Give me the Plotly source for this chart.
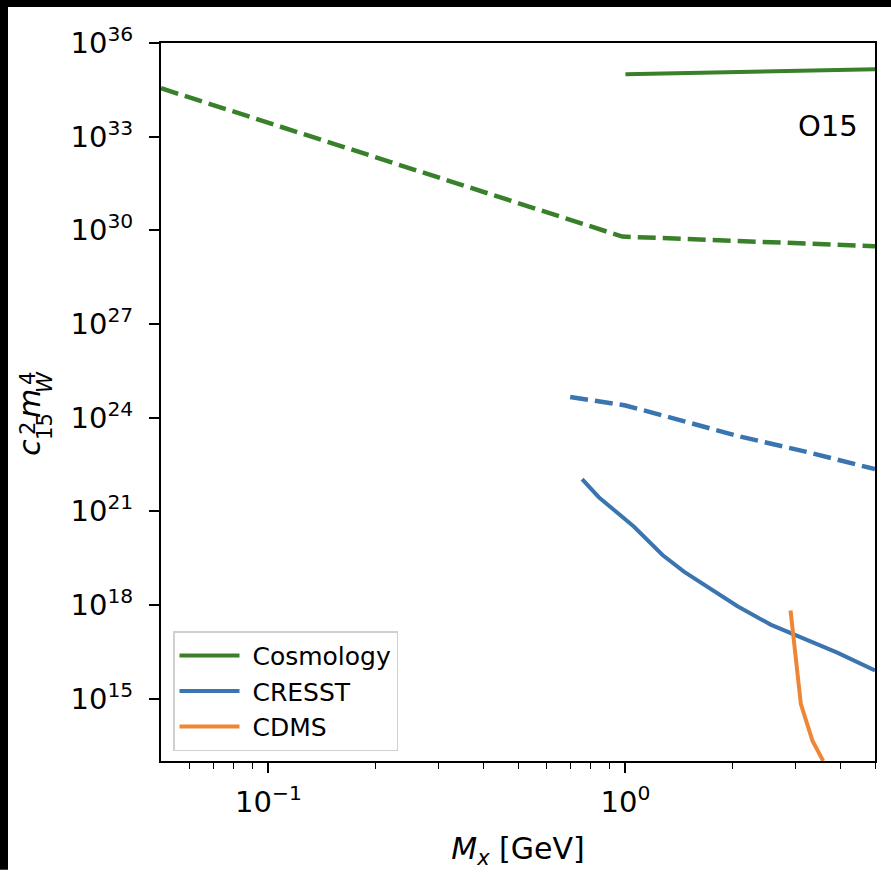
import plotly.graph_objects as go

# ---------------- data ----------------
cosmo_solid_x = [1.0, 5.0]
cosmo_solid_y = [1.0e35, 1.45e35]

cosmo_dash_x = [0.05, 0.98, 5.0]
cosmo_dash_y = [3.55e34, 6.3e29, 3.1e29]

cresst_dash_x = [0.70, 1.0, 1.37, 2.1, 3.23, 5.0]
cresst_dash_y = [4.57e24, 2.45e24, 9.3e23, 2.45e23, 7.9e22, 2.24e22]

cresst_x = [0.756, 0.842, 1.055, 1.27, 1.458, 2.06, 2.55, 3.92, 5.0]
cresst_y = [1.07e22, 2.82e21, 3.24e20, 3.98e19, 1.17e19, 9.1e17, 2.34e17, 2.95e16, 7.9e15]

cdms_x = [2.90, 3.10, 3.34, 3.58]
cdms_y = [6.6e17, 6.6e14, 4.47e13, 1.0e13]

y_tick_exps = [15, 18, 21, 24, 27, 30, 33, 36]
x_tick_vals = [0.1, 1.0]
x_tick_text = ["10<sup>\u22121</sup>", "10<sup>0</sup>"]
x_minor_vals = [0.06, 0.07, 0.08, 0.09, 0.2, 0.3, 0.4, 0.5, 0.6, 0.7, 0.8, 0.9, 2, 3, 4, 5]

GREEN = "#38812a"
BLUE = "#3b75af"
ORANGE = "#ef8636"

# ---------------- figure ----------------
W, H = 891, 872
L, R, T, B = 161, 16, 43, 109
PW, PH = W - L - R, H - T - B

def px(x):
    return (x - L) / PW

def py(y):
    return (H - B - y) / PH

FONT = "DejaVu Sans"
DASH = "18px,7px"
fig = go.Figure()

fig.add_trace(go.Scatter(x=cosmo_dash_x, y=cosmo_dash_y, mode="lines",
                         line=dict(color=GREEN, width=4.5, dash=DASH),
                         showlegend=False))
fig.add_trace(go.Scatter(x=cresst_dash_x, y=cresst_dash_y, mode="lines",
                         line=dict(color=BLUE, width=4.5, dash=DASH),
                         showlegend=False))
fig.add_trace(go.Scatter(x=cosmo_solid_x, y=cosmo_solid_y, mode="lines",
                         line=dict(color=GREEN, width=4), name="\u00a0Cosmology"))
fig.add_trace(go.Scatter(x=cresst_x, y=cresst_y, mode="lines",
                         line=dict(color=BLUE, width=4), name="\u00a0CRESST"))
fig.add_trace(go.Scatter(x=cdms_x, y=cdms_y, mode="lines",
                         line=dict(color=ORANGE, width=4), name="\u00a0CDMS"))

fig.update_layout(
    width=W, height=H,
    margin=dict(l=L, r=R, t=T, b=B, pad=0),
    paper_bgcolor="white", plot_bgcolor="white",
    font=dict(family=FONT, color="black", size=29),
    legend=dict(x=px(173), y=py(633), xanchor="left", yanchor="top",
                bgcolor="rgba(255,255,255,0.8)", bordercolor="#d0d0d0", borderwidth=1.5,
                font=dict(size=25, family=FONT), itemwidth=60, tracegroupgap=0),
    xaxis=dict(type="log", range=[-1.30103, 0.69897],
               tickvals=x_tick_vals, ticktext=x_tick_text,
               ticks="outside", ticklen=10, tickwidth=1.8, tickcolor="black",
               showline=True, linecolor="black", linewidth=2, mirror=True,
               showgrid=False, zeroline=False, ticklabelstandoff=4,
               tickfont=dict(size=29, family=FONT),
               minor=dict(tickvals=x_minor_vals, ticks="outside", ticklen=6,
                          tickwidth=1.4, tickcolor="black", showgrid=False),
               title=dict(text="<i>M</i><sub><i>x</i></sub> [GeV]",
                          font=dict(size=30, family=FONT), standoff=20)),
    yaxis=dict(type="log", range=[12.9999, 36.0001],
               tickvals=[10.0 ** e for e in y_tick_exps],
               ticktext=["10<sup>%d</sup>" % e for e in y_tick_exps],
               ticks="outside", ticklen=10, tickwidth=1.8, tickcolor="black",
               showline=True, linecolor="black", linewidth=2, mirror=True,
               showgrid=False, zeroline=False, ticklabelstandoff=10,
               tickfont=dict(size=29, family=FONT)),
)

# y-axis label built from pieces (stacked sub/superscripts)
ylab = [
    ("<i>c</i>", 30, 30, 449),
    ("2", 21, 28, 430),
    ("15", 21, 45, 428),
    ("<i>m</i>", 30, 30, 405),
    ("4", 21, 28, 380),
    ("<i>W</i>", 21, 45, 383),
]
for txt, sz, xx, yy in ylab:
    fig.add_annotation(text=txt, xref="paper", yref="paper", x=px(xx), y=py(yy),
                       xanchor="center", yanchor="middle", textangle=-90,
                       showarrow=False, font=dict(size=sz, family=FONT, color="black"))

fig.add_annotation(text="O15", xref="paper", yref="paper", x=px(828), y=py(126),
                   xanchor="center", yanchor="middle", showarrow=False,
                   font=dict(size=29, family=FONT, color="black"))

# black strips at the top and left edge of the picture
fig.add_shape(type="rect", xref="paper", yref="paper", layer="above",
              x0=px(0), x1=px(8), y0=py(H), y1=py(0),
              fillcolor="black", line=dict(width=0))
fig.add_shape(type="rect", xref="paper", yref="paper", layer="above",
              x0=px(0), x1=px(W), y0=py(7), y1=py(0),
              fillcolor="black", line=dict(width=0))

fig.write_html("out.html")
